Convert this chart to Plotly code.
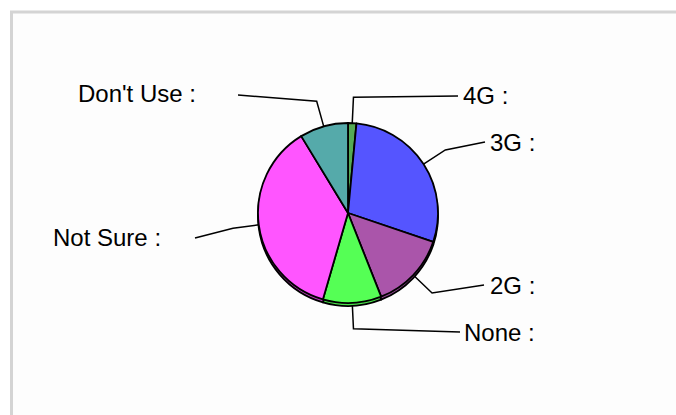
"""Pie chart of network generation used, with leader-line labels."""

import math

import plotly.graph_objects as go

labels = ["4G", "3G", "2G", "None", "Not Sure", "Don't Use"]
shares = [1.5, 28.7, 13.8, 10.5, 36.8, 8.7]
colors = ["#55aa55", "#5555ff", "#aa55aa", "#55ff55", "#ff55ff", "#55aaaa"]
shadow_colors = ["#4a964a", "#4a4ae0", "#964a96", "#4ae04a", "#c040c0", "#4a9696"]

W, H = 676, 415
CX, CY, R = 348, 213, 90  # pie centre / radius in pixels
SHADOW = 3

# where each leader line ends and where its label sits (pixels)
label_pos = {
    "4G": dict(end=(458, 96), text=(461, 95), side="left"),
    "3G": dict(end=(485, 142), text=(488, 142), side="left"),
    "2G": dict(end=(484, 285), text=(488, 285), side="left"),
    "None": dict(end=(460, 332), text=(462, 332), side="left"),
    "Not Sure": dict(end=(195, 238), text=(163, 237), side="right"),
    "Don't Use": dict(end=(238, 95), text=(198, 93), side="right"),
}


def _domain(dy=0):
    return dict(
        x=[(CX - R) / W, (CX + R) / W],
        y=[(H - CY - R - dy) / H, (H - CY + R - dy) / H],
    )


fig = go.Figure()

for cols, dy in ((shadow_colors, SHADOW), (colors, 0)):
    fig.add_trace(
        go.Pie(
            labels=labels,
            values=shares,
            sort=False,
            direction="clockwise",
            rotation=0,
            textinfo="none",
            hoverinfo="label+percent",
            marker=dict(colors=cols, line=dict(color="black", width=1.8)),
            domain=_domain(dy),
            showlegend=False,
        )
    )

# leader lines: start on the rim at the slice mid-angle, elbow a bit further out
total = sum(shares)
xs, ys = [], []
acc = 0.0
annotations = []
for name, val in zip(labels, shares):
    mid = math.radians((acc + val / 2) / total * 360)
    acc += val
    sx, sy = CX + R * math.sin(mid), CY - R * math.cos(mid)
    ex, ey = CX + (R + 26) * math.sin(mid), CY - (R + 26) * math.cos(mid)
    pos = label_pos[name]
    xs += [sx, ex, pos["end"][0], None]
    ys += [sy, ey, pos["end"][1], None]
    annotations.append(
        dict(
            x=pos["text"][0],
            y=pos["text"][1],
            xref="x",
            yref="y",
            text=f"{name} :",
            showarrow=False,
            xanchor=pos["side"],
            yanchor="middle",
            font=dict(family="Liberation Sans, Arial", size=24, color="black"),
        )
    )

fig.add_trace(
    go.Scatter(
        x=xs, y=ys, mode="lines", line=dict(color="black", width=1.5),
        hoverinfo="skip", showlegend=False,
    )
)

fig.update_layout(
    width=W,
    height=H,
    margin=dict(l=0, r=0, t=0, b=0),
    paper_bgcolor="white",
    plot_bgcolor="rgba(0,0,0,0)",
    xaxis=dict(range=[0, W], visible=False, fixedrange=True),
    yaxis=dict(range=[H, 0], visible=False, fixedrange=True),
    annotations=annotations,
    shapes=[
        dict(
            type="rect", xref="x", yref="y",
            x0=11.5, y0=12, x1=W + 20, y1=H + 20,
            line=dict(color="#d4d4d4", width=3),
            fillcolor="#fdfdfd", layer="below",
        )
    ],
)

# the page's default body margin would push the figure 8px in and add scrollbars
fig.write_html(
    "out.html",
    config={"displayModeBar": False},
    post_script="document.body.style.margin='0';document.body.style.overflow='hidden';",
)
